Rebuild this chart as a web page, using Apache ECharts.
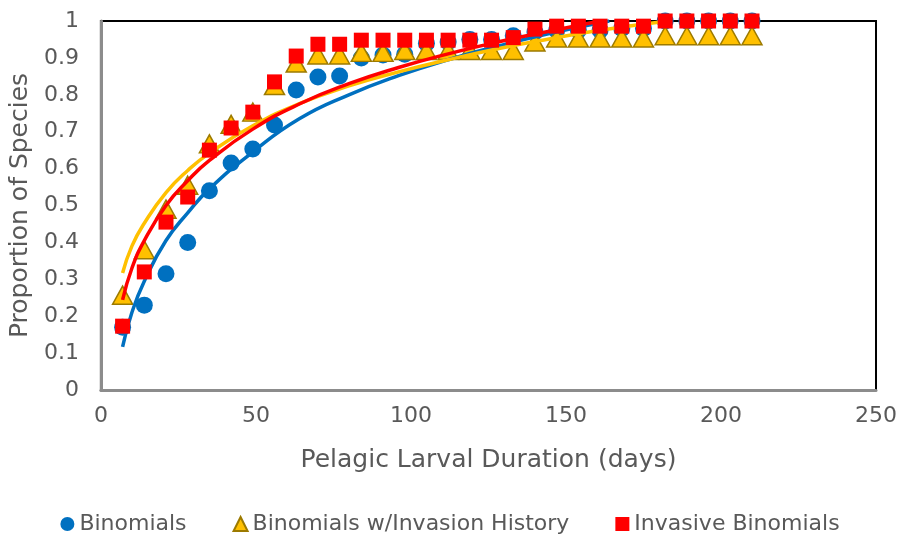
<!DOCTYPE html>
<html>
<head>
<meta charset="utf-8">
<script src="https://cdn.jsdelivr.net/npm/echarts@6/dist/echarts.min.js"></script>
<style>
  html, body { margin: 0; padding: 0; background: #fff; }
  #chart_wrap { width: 900px; height: 543px; }
</style>
</head>
<body>
<div id="chart_wrap"></div>
<script>
// pelagic larval duration (days)
var days = [7, 14, 21, 28, 35, 42, 49, 56, 63, 70, 77, 84, 91, 98, 105,
            112, 119, 126, 133, 140, 147, 154, 161, 168, 175, 182, 189, 196, 203, 210];

var binomials = [0.17, 0.23, 0.315, 0.40, 0.54, 0.615, 0.653, 0.718, 0.813, 0.848, 0.851, 0.90, 0.908, 0.91, 0.94,
                 0.943, 0.95, 0.95, 0.96, 0.97, 0.975, 0.975, 0.975, 0.98, 0.98, 1, 1, 1, 1, 1];
var invasionHistory = [0.257, 0.38, 0.49, 0.555, 0.667, 0.72, 0.753, 0.825, 0.886, 0.908, 0.908, 0.915, 0.915, 0.92, 0.92,
                       0.92, 0.92, 0.92, 0.92, 0.943, 0.954, 0.954, 0.954, 0.954, 0.954, 0.96, 0.96, 0.96, 0.96, 0.96];
var invasive = [0.173, 0.32, 0.455, 0.523, 0.65, 0.71, 0.753, 0.835, 0.905, 0.937, 0.937, 0.948, 0.948, 0.948, 0.948,
                0.948, 0.948, 0.948, 0.955, 0.978, 0.986, 0.986, 0.986, 0.986, 0.986, 1, 1, 1, 1, 1];

// trendlines (day, value)
var fitBinomials = [[7, 0.117], [10, 0.21], [14, 0.295], [21, 0.405], [28, 0.48], [35, 0.545], [49, 0.645],
                    [64, 0.735], [80, 0.8], [96, 0.852], [112, 0.895], [128, 0.932], [145, 0.967], [164, 1.0]];
var fitInvasionHistory = [[7, 0.317], [10, 0.39], [14, 0.452], [21, 0.535], [28, 0.595], [35, 0.642], [49, 0.716],
                          [64, 0.776], [80, 0.824], [96, 0.862], [112, 0.895], [128, 0.925], [145, 0.952],
                          [161, 0.975], [183, 1.0]];
var fitInvasive = [[7, 0.244], [10, 0.33], [14, 0.405], [21, 0.5], [28, 0.567], [35, 0.622], [49, 0.707],
                   [64, 0.775], [80, 0.83], [96, 0.874], [112, 0.911], [128, 0.943], [145, 0.973], [161, 1.0]];

var names = ['Binomials', 'Binomials w/Invasion History', 'Invasive Binomials'];

var pairUp = function (ys) {
    var res = [];
    for (var i = 0; i < days.length; i++) {
        res.push([days[i], ys[i]]);
    }
    return res;
};

var textGrey = '#595959';
var font = 'DejaVu Sans';

var chart = echarts.init(document.getElementById('chart_wrap'));

var fitLine = function (name, color, data) {
    return {
        name: name,
        type: 'line',
        z: 4,
        smooth: 0.5,
        symbol: 'none',
        silent: true,
        lineStyle: { color: color, width: 3.5 },
        data: data
    };
};

var option = {
    backgroundColor: '#fff',
    animation: false,
    textStyle: { fontFamily: font },
    grid: {
        left: 99, right: 21, top: 21, bottom: 153,
        show: true,
        borderColor: '#000',
        borderWidth: 2
    },
    legend: {
        data: names,
        bottom: 3,
        left: 'center',
        itemGap: 46,
        itemWidth: 14,
        itemHeight: 14,
        textStyle: { color: textGrey, fontSize: 22, fontFamily: font }
    },
    xAxis: {
        type: 'value',
        min: 0, max: 250, interval: 50,
        name: 'Pelagic Larval Duration (days)',
        nameLocation: 'middle',
        nameGap: 58,
        nameTextStyle: { color: textGrey, fontSize: 25, fontFamily: font },
        axisLine: { show: true, lineStyle: { color: '#8c8c8c', width: 3 } },
        axisTick: { show: false },
        splitLine: { show: false },
        axisLabel: { color: textGrey, fontSize: 22, margin: 15, fontFamily: font }
    },
    yAxis: {
        type: 'value',
        min: 0, max: 1, interval: 0.1,
        name: 'Proportion of Species',
        nameLocation: 'middle',
        nameGap: 56,
        nameTextStyle: { color: textGrey, fontSize: 25, fontFamily: font },
        axisLine: { show: true, lineStyle: { color: '#8c8c8c', width: 3 } },
        axisTick: { show: false },
        splitLine: { show: false },
        axisLabel: { color: textGrey, fontSize: 22, margin: 22, fontFamily: font }
    },
    series: [
        {
            name: names[0],
            type: 'scatter',
            z: 2,
            symbol: 'circle',
            symbolSize: 17,
            itemStyle: { color: '#0070C0', opacity: 1 },
            data: pairUp(binomials)
        },
        {
            name: names[1],
            type: 'scatter',
            z: 3,
            symbol: 'triangle',
            symbolSize: [20, 18],
            itemStyle: { color: '#FFC000', borderColor: '#9C7A00', borderWidth: 1.5, opacity: 1 },
            data: pairUp(invasionHistory)
        },
        fitLine('fit1', '#0070C0', fitBinomials),
        fitLine('fit2', '#FFC000', fitInvasionHistory),
        fitLine('fit3', '#FF0000', fitInvasive),
        {
            name: names[2],
            type: 'scatter',
            z: 5,
            symbol: 'rect',
            symbolSize: 15,
            itemStyle: { color: '#FF0000', opacity: 1 },
            data: pairUp(invasive)
        }
    ]
};

chart.setOption(option, true);
</script>
</body>
</html>
